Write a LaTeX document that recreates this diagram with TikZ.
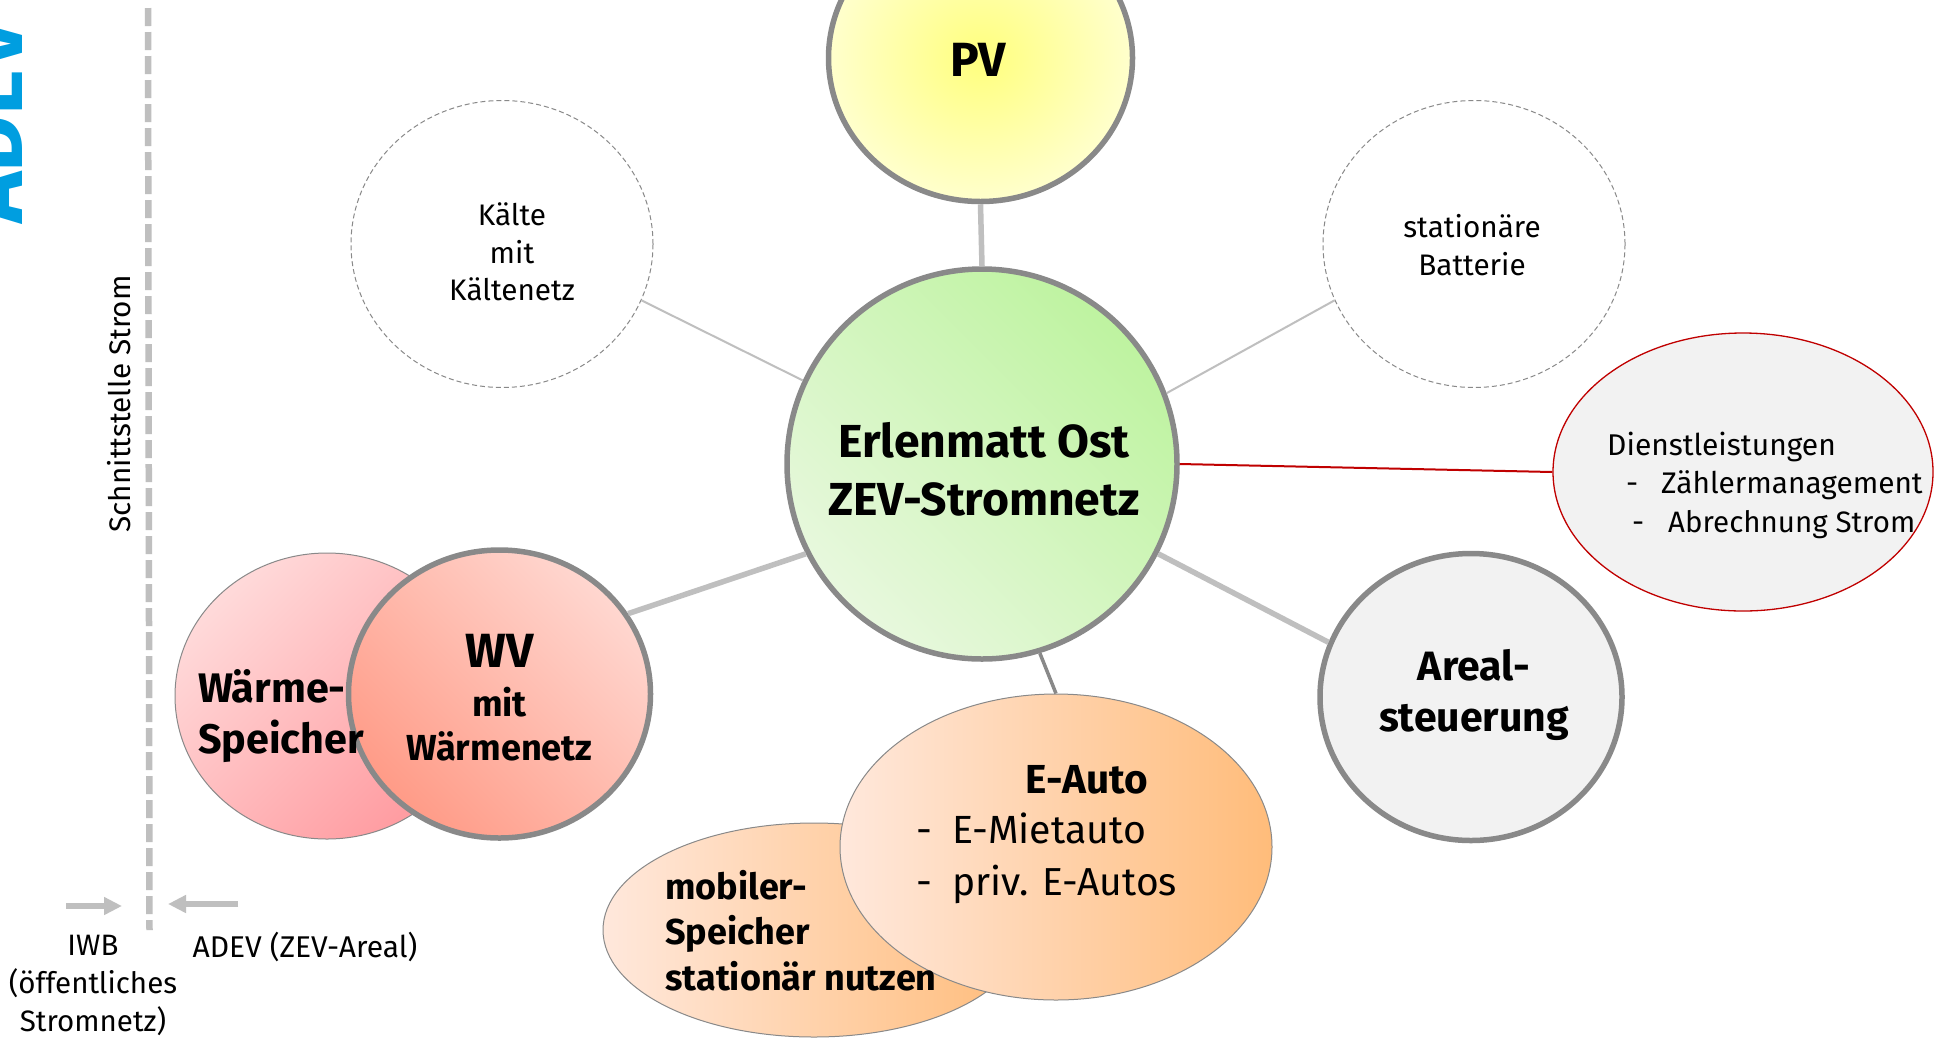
\documentclass[tikz,border=0pt]{standalone}
\usepackage{fontspec}
\setmainfont{Fira Sans}
\usetikzlibrary{shapes.geometric,arrows.meta}
\definecolor{rimgray}{RGB}{137,137,137}
\definecolor{linkgray}{RGB}{191,191,191}
\definecolor{redline}{RGB}{192,0,0}
\definecolor{panel}{RGB}{242,242,242}
\definecolor{logoblue}{RGB}{0,158,224}
\definecolor{pvin}{RGB}{255,255,125}
\definecolor{pvout}{RGB}{255,255,205}
\definecolor{gdark}{RGB}{190,243,160}
\definecolor{glight}{RGB}{232,248,222}
\definecolor{wlight}{RGB}{255,218,218}
\definecolor{wdark}{RGB}{255,155,160}
\definecolor{vlight}{RGB}{255,215,208}
\definecolor{vdark}{RGB}{255,155,135}
\definecolor{olight}{RGB}{255,232,220}
\definecolor{odark}{RGB}{255,188,122}
\newcommand{\fs}[1]{\fontsize{#1}{#1}\selectfont}
\tikzset{
 x=1pt,y=-1pt,
 blob/.style={ellipse,inner sep=0pt,minimum width=#1},
 rim/.style={draw=rimgray,line width=5.5pt},
 thinrim/.style={draw=rimgray,line width=1pt},
 ghost/.style={draw=rimgray,line width=1pt,dash pattern=on 5pt off 3pt,fill=white},
 lbl/.style={align=center,inner sep=0pt,text=black},
 linkthin/.style={draw=linkgray,line width=2pt},
 linkfat/.style={draw=linkgray,line width=5.5pt},
 sidearrow/.style={draw=linkgray,line width=6pt,-{Triangle[length=18pt,width=17pt]}},
}
\begin{document}
\begin{tikzpicture}
\useasboundingbox (0,0) rectangle (1934,1037);
\fill[white] (0,0) rectangle (1934,1037);
% logo
\node[rotate=90,anchor=base,inner sep=0pt,text=logoblue,font=\fs{87}\bfseries] (logo) at (23,122) {ADEV};
% interface
\coordinate (ifA) at (148,8);
\coordinate (ifB) at (149.5,930);
\draw[draw=linkgray,line width=6.5pt,dash pattern=on 18pt off 6pt] (ifA) -- (ifB);
\node[rotate=90,lbl,font=\fs{29.7}] (schnitt) at (119,404) {Schnittstelle Strom};
\coordinate (a1s) at (66,906);\coordinate (a1e) at (122,906);
\coordinate (a2s) at (238,904);\coordinate (a2e) at (168,904);
\draw[sidearrow] (a1s) -- (a1e);
\draw[sidearrow] (a2s) -- (a2e);
\node[lbl,font=\fs{29.5}] (iwb) at (93,985) {IWB\\[8.5pt](öffentliches\\[8.5pt]Stromnetz)};
\node[lbl,font=\fs{30}] (adev) at (305,947) {ADEV (ZEV-Areal)};
% nodes
\node[blob=302pt,minimum height=287pt,ghost] (kaelte) at (502,244) {};
\node[blob=302pt,minimum height=287pt,ghost] (batt) at (1474,244) {};
\node[blob=380pt,minimum height=278pt,draw=redline,line width=1.3pt,fill=panel] (dienst) at (1743,472) {};
\node[blob=302pt,minimum height=287pt,rim,fill=panel] (areal) at (1471,697) {};
\node[blob=304pt,minimum height=286pt,thinrim,top color=wlight,bottom color=wdark,shading angle=45] (waerme) at (327,696) {};
\node[blob=302pt,minimum height=288pt,rim,top color=vlight,bottom color=vdark,shading angle=-45] (wv) at (499.5,694) {};
\node[blob=304pt,minimum height=287pt,rim,inner color=pvin,outer color=pvout] (pv) at (980.5,58) {};
\node[blob=390pt,minimum height=390pt,rim,top color=gdark,bottom color=glight,shading angle=-45] (center) at (982,464) {};
\node[blob=422pt,minimum height=214pt,thinrim,left color=olight,right color=odark] (mobil) at (814,930) {};
\node[blob=432pt,minimum height=306pt,thinrim,left color=olight,right color=odark] (eauto) at (1056,847) {};
% connectors
\draw[linkfat] (pv.-90) -- (center.90);
\draw[linkthin] (kaelte.-22) -- (center.155.5);
\draw[linkthin] (batt.202) -- (center.21.4);
\draw[redline,line width=2pt] (center.0) -- (dienst.180);
\draw[linkfat] (center.-27.5) -- (areal.159);
\draw[linkfat] (center.207.5) -- (wv.32);
\draw[draw=rimgray,line width=3.5pt] (center.-73.5) -- (eauto.90);
% labels
\node[lbl,font=\fs{29.7}] (t1) at (512,252) {Kälte\\[8pt]mit\\[8pt]Kältenetz};
\node[lbl,font=\fs{29.7}] (t2) at (1472,245) {stationäre\\[8pt]Batterie};
\node[lbl,font=\fs{30},anchor=base west] (t3) at (1607,455) {Dienstleistungen};
\node[lbl,font=\fs{30},anchor=base west] (t4) at (1626,493) {-};
\node[lbl,font=\fs{29.8},anchor=base west] (t5) at (1661,493) {Zählermanagement};
\node[lbl,font=\fs{30},anchor=base west] (t6) at (1632,532) {-};
\node[lbl,font=\fs{29.5},anchor=base west] (t7) at (1668,532) {Abrechnung Strom};
\node[lbl,font=\fs{48}\bfseries] (t8) at (978,60) {PV};
\node[lbl,font=\fs{46.3}\bfseries] (t9) at (984,469) {Erlenmatt Ost\\[11.5pt]ZEV-Stromnetz};
\node[lbl,font=\fs{41}\bfseries] (t10) at (1474,695) {Areal-\\[10pt]steuerung};
\node[lbl,font=\fs{41.3}\bfseries,align=left,anchor=west] (t11) at (198,716) {Wärme-\\[10pt]Speicher};
\node[lbl,font=\fs{48}\bfseries] (t12) at (499.5,651) {WV};
\node[lbl,font=\fs{36.2}\bfseries] (t13) at (499.5,724) {mit\\[8.4pt]Wärmenetz};
\node[lbl,font=\fs{36}\bfseries,align=left] (t14) at (801,931) {mobiler-\\[8.4pt]Speicher\\[8.4pt]stationär nutzen};
\node[lbl,font=\fs{40.5}\bfseries] (t15) at (1087,780) {E-Auto};
\node[lbl,font=\fs{39.3},anchor=base west] (t16) at (916,843) {-};
\node[lbl,font=\fs{39.3},anchor=base west] (t17) at (952,843) {E-Mietauto};
\node[lbl,font=\fs{39.3},anchor=base west] (t18) at (916,895) {-};
\node[lbl,font=\fs{39},anchor=base west] (t19) at (952,895) {priv. E-Autos};
\end{tikzpicture}
\end{document}
